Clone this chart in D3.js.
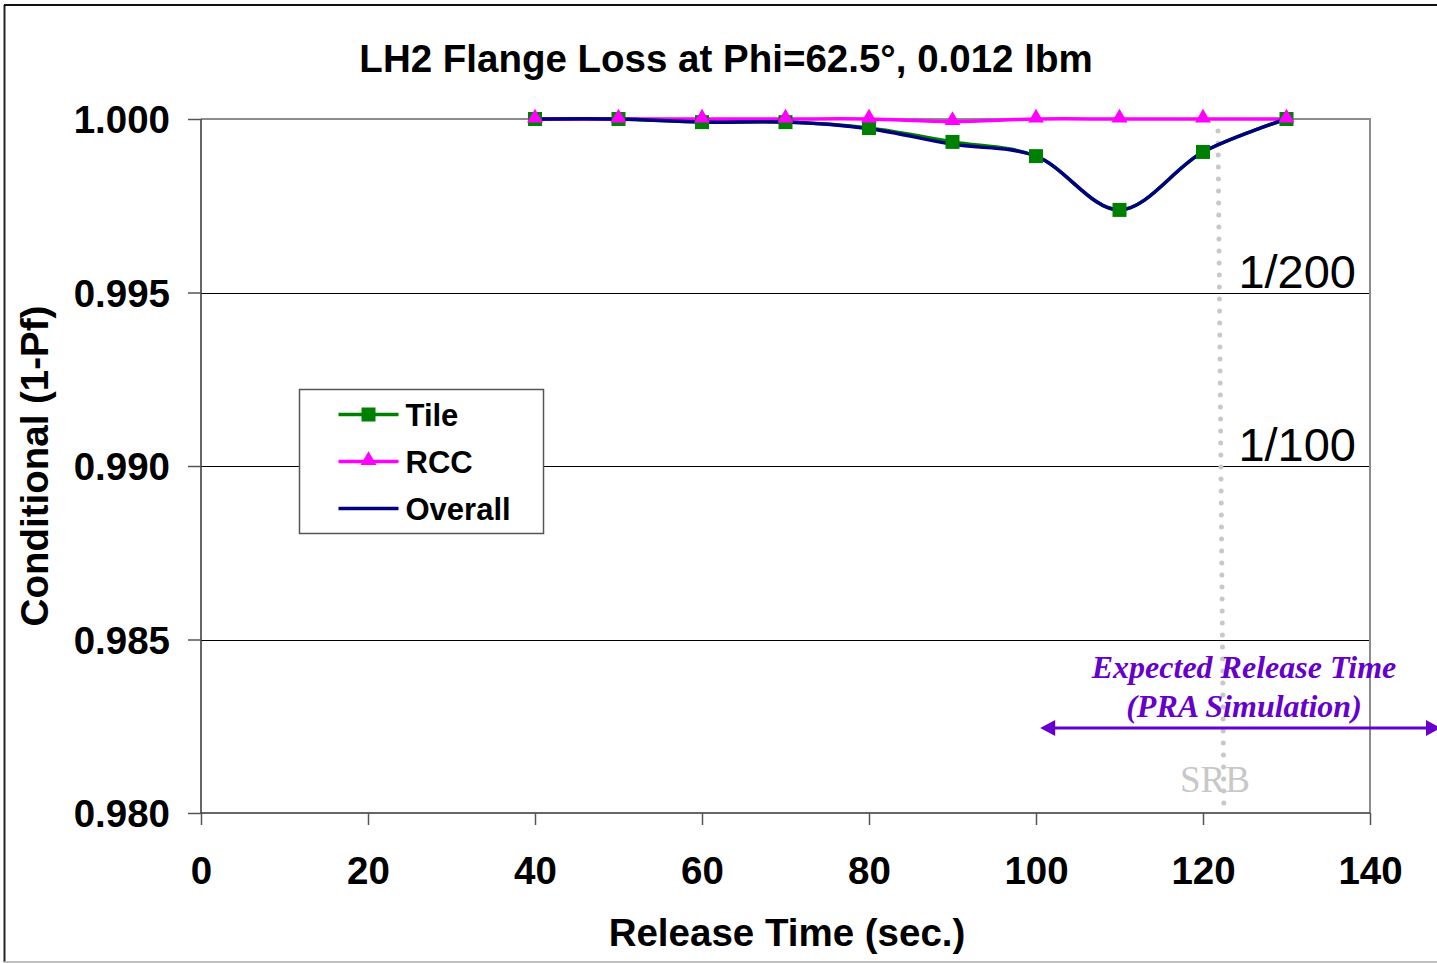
<!DOCTYPE html>
<html>
<head>
<meta charset="utf-8">
<script src="https://cdn.jsdelivr.net/npm/d3@7"></script>
<style>
  body { margin: 0; background: #fff; }
  svg { display: block; font-family: Arial, "Liberation Sans", sans-serif; }
</style>
</head>
<body>
<svg id="chart" width="1437" height="963"></svg>
<script>
// data
var releaseTimes = [40, 50, 60, 70, 80, 90, 100, 110, 120, 130];
var tileValues = [1.0000, 1.0000, 0.99991, 0.99991, 0.99974, 0.99934, 0.99893, 0.99738, 0.99905, 1.0000];
var rccValues = [1.0000, 1.0000, 1.0000, 1.0000, 1.0000, 0.99993, 1.0000, 1.0000, 1.0000, 1.0000];
var overallValues = [1.0000, 1.0000, 0.99991, 0.99991, 0.99972, 0.99927, 0.99893, 0.99738, 0.99905, 1.0000];
var xTicks = [0, 20, 40, 60, 80, 100, 120, 140];
var yTicks = [0.980, 0.985, 0.990, 0.995, 1.000];
var riskLines = [{ label: "1/200", value: 0.995 }, { label: "1/100", value: 0.990 }];
var srbTime = [121.8, 122.5];   // top, bottom of the dotted SRB line
var expectedRange = [100.5, 148.5];

var margin = { top: 119, right: 67, bottom: 150, left: 201 },
    width = 1437 - margin.left - margin.right,
    height = 963 - margin.top - margin.bottom;

var svg = d3.select('#chart');

// outer frame
svg.append('line').attr('x1', 4.5).attr('y1', 5).attr('x2', 4.5).attr('y2', 962).attr('stroke', '#222').attr('stroke-width', 2);
svg.append('line').attr('x1', 4).attr('y1', 5).attr('x2', 1437).attr('y2', 5).attr('stroke', '#111').attr('stroke-width', 2);
svg.append('line').attr('x1', 4).attr('y1', 962).attr('x2', 1437).attr('y2', 962).attr('stroke', '#aaa').attr('stroke-width', 1.5);

var g = svg.append('g').attr('transform', 'translate(' + margin.left + ',' + margin.top + ')');

var x = d3.scaleLinear().domain([0, 140]).range([0, width]);
var y = d3.scaleLinear().domain([0.980, 1.000]).range([height, 0]);

// gridlines
g.selectAll('.grid').data(yTicks.filter(function(d){ return d > 0.980 && d < 1.0; }))
  .enter().append('line')
    .attr('x1', 0).attr('x2', width)
    .attr('y1', function(d){ return Math.round(y(d)) + 0.5; })
    .attr('y2', function(d){ return Math.round(y(d)) + 0.5; })
    .attr('stroke', '#000').attr('stroke-width', 1);

// plot border top + right (gray)
g.append('path')
  .attr('d', 'M0,' + y(1.0) + 'H' + width + 'V' + height)
  .attr('fill', 'none').attr('stroke', '#8c8c8c').attr('stroke-width', 2);

// axes
var yAxis = d3.axisLeft(y).tickValues(yTicks).tickFormat(d3.format('.3f')).tickSize(13).tickPadding(18);
var xAxis = d3.axisBottom(x).tickValues(xTicks).tickFormat(d3.format('d')).tickSize(12).tickPadding(32);

var gy = g.append('g').call(yAxis);
var gx = g.append('g').attr('transform', 'translate(0,' + height + ')').call(xAxis);
[gx, gy].forEach(function(a){
  a.select('.domain').attr('stroke', '#333').attr('stroke-width', 1.5);
  a.selectAll('.tick line').attr('stroke', '#555').attr('stroke-width', 1.5);
  a.selectAll('text').attr('font-family', 'Arial, "Liberation Sans", sans-serif')
    .attr('font-size', 38.5).attr('font-weight', 'bold').attr('fill', '#000');
});
gy.select('.domain').attr('d', 'M0,' + height + 'V0');
gx.select('.domain').attr('d', 'M0,0H' + width);
gy.selectAll('text').attr('dy', '0.36em');

// SRB dotted line
g.append('line')
  .attr('x1', x(srbTime[0])).attr('y1', 12)
  .attr('x2', x(srbTime[1])).attr('y2', height - 5)
  .attr('stroke', '#c8c8c8').attr('stroke-width', 5)
  .attr('stroke-linecap', 'round').attr('stroke-dasharray', '0 12');

g.append('text')
  .attr('x', x(srbTime[0]) - 3).attr('y', height - 21)
  .attr('text-anchor', 'middle')
  .attr('font-family', '"Liberation Serif", "Times New Roman", serif')
  .attr('font-size', 37).attr('fill', '#c8c8c8')
  .text('SRB');

// risk labels
g.selectAll('.risk').data(riskLines).enter().append('text')
  .attr('x', width - 14).attr('y', function(d){ return y(d.value) - 5; })
  .attr('text-anchor', 'end').attr('font-size', 47).attr('fill', '#000')
  .text(function(d){ return d.label; });

// lines
var pts = function(vals){ return releaseTimes.map(function(t, i){ return [t, vals[i]]; }); };
var line = d3.line().x(function(d){ return x(d[0]); }).y(function(d){ return y(d[1]); })
  .curve(d3.curveCatmullRom.alpha(0.5));

g.append('path').datum(pts(tileValues)).attr('d', line)
  .attr('fill', 'none').attr('stroke', '#008000').attr('stroke-width', 3.5);
g.append('path').datum(pts(rccValues)).attr('d', line)
  .attr('fill', 'none').attr('stroke', '#ff00ff').attr('stroke-width', 3.5);
g.append('path').datum(pts(overallValues)).attr('d', line)
  .attr('fill', 'none').attr('stroke', '#000080').attr('stroke-width', 3.5);

// markers
g.selectAll('.sq').data(pts(tileValues)).enter().append('rect')
  .attr('x', function(d){ return x(d[0]) - 7; }).attr('y', function(d){ return y(d[1]) - 7; })
  .attr('width', 14).attr('height', 14).attr('fill', '#008000');
var tri = d3.symbol().type(d3.symbolTriangle).size(110);
g.selectAll('.tri').data(pts(rccValues)).enter().append('path')
  .attr('d', tri)
  .attr('transform', function(d){ return 'translate(' + x(d[0]) + ',' + (y(d[1]) - 1) + ')'; })
  .attr('fill', '#ff00ff');

// expected release time annotation
var purple = '#6600cc';
var ann = svg.append('g');
ann.append('text').attr('x', 1244).attr('y', 678).attr('text-anchor', 'middle')
  .attr('font-family', '"Liberation Serif", "Times New Roman", serif')
  .attr('font-size', 32).attr('font-weight', 'bold').attr('font-style', 'italic').attr('fill', purple)
  .text('Expected Release Time');
ann.append('text').attr('x', 1244).attr('y', 717).attr('text-anchor', 'middle')
  .attr('font-family', '"Liberation Serif", "Times New Roman", serif')
  .attr('font-size', 32).attr('font-weight', 'bold').attr('font-style', 'italic').attr('fill', purple)
  .text('(PRA Simulation)');
var ax0 = margin.left + x(expectedRange[0]), ax1 = margin.left + x(expectedRange[1]), ay = 728;
ann.append('line').attr('x1', ax0 + 6).attr('x2', ax1 - 6).attr('y1', ay).attr('y2', ay)
  .attr('stroke', purple).attr('stroke-width', 3);
ann.append('path').attr('d', 'M' + ax0 + ',' + ay + 'l15,-8v16z').attr('fill', purple);
ann.append('path').attr('d', 'M' + ax1 + ',' + ay + 'l-15,-8v16z').attr('fill', purple);

// legend
var legend = svg.append('g').attr('transform', 'translate(299.5,389.5)');
legend.append('rect').attr('width', 244).attr('height', 144)
  .attr('fill', '#fff').attr('stroke', '#555').attr('stroke-width', 1.5);
var legendItems = [
  { name: 'Tile', color: '#008000', marker: 'square' },
  { name: 'RCC', color: '#ff00ff', marker: 'triangle' },
  { name: 'Overall', color: '#000080', marker: null }
];
legendItems.forEach(function(d, i){
  var ly = 25 + i * 47;
  var row = legend.append('g').attr('transform', 'translate(0,' + ly + ')');
  row.append('line').attr('x1', 39).attr('x2', 99).attr('stroke', d.color).attr('stroke-width', 3.5);
  if (d.marker === 'square') {
    row.append('rect').attr('x', 62).attr('y', -7).attr('width', 14).attr('height', 14).attr('fill', d.color);
  } else if (d.marker === 'triangle') {
    row.append('path').attr('d', tri).attr('transform', 'translate(69,-1)').attr('fill', d.color);
  }
  row.append('text').attr('x', 106).attr('dy', '0.36em')
    .attr('font-size', 31).attr('font-weight', 'bold').attr('fill', '#000').text(d.name);
});

// titles
svg.append('text').attr('x', 726).attr('y', 72).attr('text-anchor', 'middle')
  .attr('font-size', 38.5).attr('font-weight', 'bold').text('LH2 Flange Loss at Phi=62.5°, 0.012 lbm');
svg.append('text').attr('x', 787).attr('y', 946).attr('text-anchor', 'middle')
  .attr('font-size', 38.5).attr('font-weight', 'bold').text('Release Time (sec.)');
svg.append('text').attr('transform', 'translate(48,466) rotate(-90)').attr('text-anchor', 'middle')
  .attr('font-size', 38.5).attr('font-weight', 'bold').text('Conditional (1-Pf)');
</script>
</body>
</html>
